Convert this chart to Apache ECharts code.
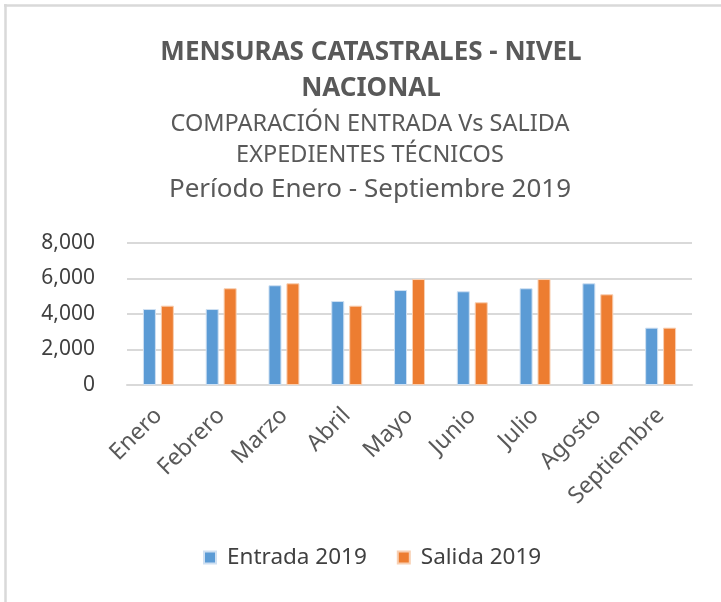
<!DOCTYPE html>
<html>
<head>
<meta charset="utf-8">
<script src="https://cdn.jsdelivr.net/npm/echarts@6/dist/echarts.min.js"></script>
<style>
html,body{margin:0;padding:0;background:#fff;}
#main{width:721px;height:602px;}
</style>
</head>
<body>
<div id="main"></div>
<script>
var categories = ['Enero','Febrero','Marzo','Abril','Mayo','Junio','Julio','Agosto','Septiembre'];
var entrada2019 = [4280, 4280, 5620, 4730, 5350, 5280, 5450, 5730, 3230];
var salida2019 = [4470, 5450, 5730, 4470, 5970, 4660, 5970, 5110, 3230];
var yTicks = [0, 2000, 4000, 6000, 8000];
var seriesNames = ['Entrada 2019', 'Salida 2019'];

var FONT = 'Noto Sans';
var chart = echarts.init(document.getElementById('main'), null, {renderer:'canvas'});
chart.setOption({
  backgroundColor: '#ffffff',
  animation: false,
  graphic: [
    {type:'line', shape:{x1:4, y1:5.5, x2:721, y2:5.5}, style:{stroke:'#d9d9d9', lineWidth:2.5}},
    {type:'line', shape:{x1:5.5, y1:4, x2:5.5, y2:602}, style:{stroke:'#d9d9d9', lineWidth:2.5}}
  ],
  title: [
    {
      text: 'MENSURAS CATASTRALES - NIVEL\nNACIONAL',
      left: 366, top: 30, textAlign: 'center',
      textStyle: {fontFamily: FONT, fontSize: 26, fontWeight: 'bold', color: '#595959', lineHeight: 36}
    },
    {
      text: 'COMPARACIÓN ENTRADA Vs SALIDA\nEXPEDIENTES TÉCNICOS',
      left: 365, top: 104, textAlign: 'center',
      textStyle: {fontFamily: FONT, fontSize: 23.5, fontWeight: 'normal', color: '#595959', lineHeight: 31}
    },
    {
      text: 'Período Enero - Septiembre 2019',
      left: 365, top: 170, textAlign: 'center',
      textStyle: {fontFamily: FONT, fontSize: 26, fontWeight: 'normal', color: '#595959', lineHeight: 30}
    }
  ],
  legend: {
    data: seriesNames,
    bottom: 28, left: 198,
    icon: 'rect', itemWidth: 12, itemHeight: 12, itemGap: 30,
    textStyle: {fontFamily: FONT, fontSize: 22.5, color: '#404040', padding: [0,0,0,6]}
  },
  grid: {left: 127, right: 29, top: 243, bottom: 217, containLabel: false},
  xAxis: {
    type: 'category',
    data: categories,
    axisLine: {lineStyle: {color: '#d9d9d9', width: 2}},
    axisTick: {show: false},
    axisLabel: {rotate: 45, margin: 27, fontFamily: FONT, fontSize: 23, color: '#595959', interval: 0}
  },
  yAxis: {
    type: 'value',
    min: yTicks[0], max: yTicks[yTicks.length-1], interval: 2000,
    axisLine: {show: false},
    axisTick: {show: false},
    splitLine: {lineStyle: {color: '#d9d9d9', width: 2}},
    axisLabel: {
      margin: 32, fontFamily: FONT, fontSize: 21, color: '#404040',
      formatter: function(v){ return v.toLocaleString('en-US'); }
    }
  },
  series: [
    {
      name: seriesNames[0], type: 'bar', data: entrada2019,
      barWidth: 13, barGap: '38%',
      itemStyle: {color: '#5b9bd5', borderColor: '#cfe0f2', borderWidth: 1}
    },
    {
      name: seriesNames[1], type: 'bar', data: salida2019,
      barWidth: 13,
      itemStyle: {color: '#ed7d31', borderColor: '#f8cfb2', borderWidth: 1}
    }
  ]
});
</script>
</body>
</html>
